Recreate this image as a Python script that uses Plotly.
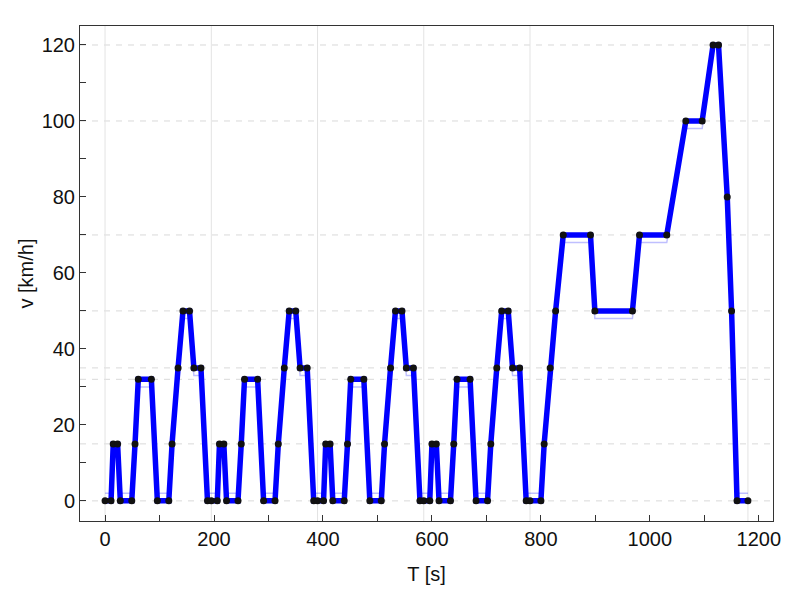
import plotly.graph_objects as go

# NEDC: 4 x ECE-15 urban cycles + EUDC, vertices
t_s = [0, 11, 15, 23, 28, 49, 55, 61, 85, 96, 117, 123, 134, 143, 155, 163, 176, 188,
       195, 206, 210, 218, 223, 244, 250, 256, 280, 291, 312, 318, 329, 338, 350, 358, 371, 383,
       390, 401, 405, 413, 418, 439, 445, 451, 475, 486, 507, 513, 524, 533, 545, 553, 566, 578,
       585, 596, 600, 608, 613, 634, 640, 646, 670, 681, 702, 708, 719, 728, 740, 748, 761, 773,
       780, 800, 806, 817, 827, 841, 891, 899, 968, 981, 1031, 1066, 1096, 1116, 1126,
       1142, 1150, 1160, 1180]

v_kmh = [0, 0, 15, 15, 0, 0, 15, 32, 32, 0, 0, 15, 35, 50, 50, 35, 35, 0,
         0, 0, 15, 15, 0, 0, 15, 32, 32, 0, 0, 15, 35, 50, 50, 35, 35, 0,
         0, 0, 15, 15, 0, 0, 15, 32, 32, 0, 0, 15, 35, 50, 50, 35, 35, 0,
         0, 0, 15, 15, 0, 0, 15, 32, 32, 0, 0, 15, 35, 50, 50, 35, 35, 0,
         0, 0, 15, 35, 50, 70, 70, 50, 50, 70, 70, 100, 100, 120, 120,
         80, 50, 0, 0]

# faint band line (slightly inside the profile)
v_band = [2, 2, 15, 15, 2, 2, 15, 30, 30, 2, 2, 15, 35, 48, 48, 33, 33, 2,
          2, 2, 15, 15, 2, 2, 15, 30, 30, 2, 2, 15, 35, 48, 48, 33, 33, 2,
          2, 2, 15, 15, 2, 2, 15, 30, 30, 2, 2, 15, 35, 48, 48, 33, 33, 2,
          2, 2, 15, 15, 2, 2, 15, 30, 30, 2, 2, 15, 35, 48, 48, 33, 33, 2,
          2, 2, 15, 35, 50, 68, 68, 48, 48, 68, 68, 98, 98, 120, 120,
          80, 50, 2, 2]

speed_levels = [0, 15, 32, 35, 50, 70, 100, 120]
cycle_bounds = [0, 195, 390, 585, 780, 1180]

font = dict(family="Liberation Sans, Arial, sans-serif", size=20, color="#111")

fig = go.Figure()
fig.add_trace(go.Scatter(x=t_s, y=v_band, mode='lines',
                         line=dict(color='rgba(0,0,255,0.25)', width=1.5),
                         showlegend=False, hoverinfo='skip'))
fig.add_trace(go.Scatter(x=t_s, y=v_kmh, mode='lines+markers',
                         line=dict(color='#0000ff', width=5.5),
                         marker=dict(color='#111', size=7),
                         showlegend=False))

for lv in speed_levels:
    fig.add_hline(y=lv, line=dict(color='#d9d9d9', width=1, dash='6px,6px'), layer='below')
for tb in cycle_bounds:
    fig.add_vline(x=tb, line=dict(color='#e3e3e3', width=1), layer='below')

axis_common = dict(showgrid=False, zeroline=False, showline=True, linecolor='#333',
                   linewidth=1, mirror=True, ticks='inside', ticklen=6, tickcolor='#333',
                   tickfont=font, automargin=False)

fig.update_xaxes(range=[-46, 1226], dtick=200, tick0=0,
                 minor=dict(dtick=100, ticks='inside', ticklen=6, tickcolor='#333'),
                 title=dict(text='T [s]', font=font, standoff=17), **axis_common)
fig.update_yaxes(range=[-5.3, 125], dtick=20, tick0=0,
                 minor=dict(dtick=10, ticks='inside', ticklen=6, tickcolor='#333'),
                 title=dict(text='v [km/h]', font=font, standoff=2), **axis_common)

fig.update_layout(width=800, height=600, plot_bgcolor='white', paper_bgcolor='white',
                  margin=dict(l=72, r=35, t=18, b=87), font=font)

fig.write_html("out.html")
